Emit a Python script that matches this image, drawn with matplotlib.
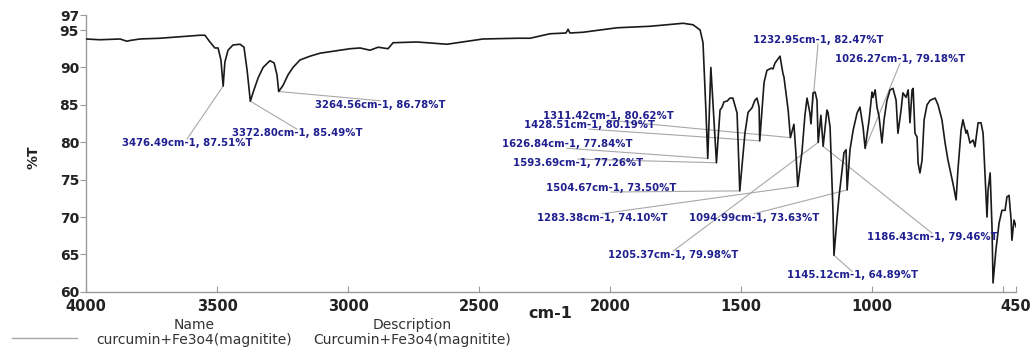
import matplotlib
matplotlib.use("Agg")
import matplotlib.pyplot as plt
from matplotlib.lines import Line2D

# FTIR spectrum, curcumin + Fe3O4
wavenumber = [4000, 3947, 3870, 3844, 3832, 3794, 3718, 3641, 3565, 3546, 3527, 3508, 3496, 3485,
              3470, 3458, 3439, 3412, 3397, 3385, 3359, 3343, 3324, 3298, 3282, 3271, 3248, 3229,
              3210, 3183, 3145, 3107, 3050, 2992, 2954, 2916, 2885, 2847, 2828, 2737, 2622, 2485,
              2355, 2305, 2229, 2168, 2160, 2153, 2103, 1973, 1847, 1721, 1683, 1656, 1645, 1634,
              1615, 1580, 1572, 1565, 1553, 1542, 1531, 1515, 1485, 1473, 1458, 1447, 1439, 1431,
              1412, 1401, 1385, 1378, 1370, 1351, 1340, 1336, 1320, 1298, 1290, 1267, 1256, 1248,
              1237, 1225, 1217, 1210, 1195, 1172, 1168, 1160, 1149, 1133, 1126, 1114, 1107, 1099,
              1084, 1072, 1057, 1046, 1034, 1011, 1000, 996, 988, 981, 973, 962, 954, 943, 931,
              920, 908, 901, 889, 882, 870, 862, 855, 847, 843, 836, 828, 824, 817, 809, 801, 790,
              778, 759, 748, 733, 721, 710, 691, 679, 672, 660, 653, 641, 637, 626, 614, 607, 595,
              584, 576, 568, 561, 557, 549, 542, 538, 527, 515, 504, 492, 485, 477, 469, 466, 458,
              450]
transmittance = [93.8, 93.7, 93.8, 93.5, 93.6, 93.8, 93.9, 94.1, 94.3, 94.3, 93.4, 92.6, 92.6, 91.0,
                 90.7, 92.3, 93.0, 93.1, 92.7, 89.6, 87.0, 88.6, 90.0, 90.9, 90.6, 89.0, 87.6, 89.0,
                 90.0, 91.0, 91.5, 91.9, 92.2, 92.5, 92.6, 92.3, 92.7, 92.5, 93.3, 93.4, 93.1, 93.8,
                 93.9, 93.9, 94.5, 94.6, 95.1, 94.6, 94.7, 95.3, 95.5, 95.9, 95.7, 95.0, 93.3, 84.3,
                 90.0, 84.3, 84.7, 85.4, 85.5, 85.9, 85.9, 83.9, 81.2, 84.0, 84.6, 85.6, 85.9, 84.7,
                 88.0, 89.6, 89.9, 89.8, 90.6, 91.5, 89.2, 88.7, 84.3, 82.4, 78.3, 78.8, 83.6, 85.9,
                 83.9, 86.6, 86.7, 85.6, 83.6, 84.3, 84.0, 82.0, 70.9, 70.0, 72.7, 76.3, 78.6, 79.0,
                 79.0, 81.6, 83.9, 84.7, 82.0, 83.0, 86.7, 86.0, 87.0, 84.7, 83.4, 79.9, 83.0, 85.6, 87.0,
                 87.2, 85.6, 81.2, 84.3, 86.6, 86.0, 87.0, 82.6, 87.0, 87.2, 81.2, 80.7, 77.2, 75.9, 77.6, 83.0, 85.0,
                 85.6, 85.9, 85.0, 83.0, 79.9, 77.6, 74.5, 72.3, 76.3, 81.6, 83.0, 81.2, 81.6, 79.9, 80.3, 79.4, 82.6,
                 82.6, 81.2, 75.3, 70.0, 73.6, 75.9, 68.7, 61.2, 65.6, 69.2, 70.9, 70.9, 72.7, 72.9, 69.6, 66.9, 69.6,
                 68.7]

# labelled peaks
peak_wn = [3476.49, 3372.80, 3264.56, 1311.42, 1428.51, 1626.84, 1593.69, 1504.67,
           1283.38, 1205.37, 1232.95, 1026.27, 1094.99, 1186.43, 1145.12]
peak_t = [87.51, 85.49, 86.78, 80.62, 80.19, 77.84, 77.26, 73.50,
          74.10, 79.98, 82.47, 79.18, 73.63, 79.46, 64.89]
# where each label sits (wavenumber, %T of text centre)
label_pos = [(3614, 79.9), (3195, 81.2), (2878, 85.0), (2007, 83.5), (2080, 82.3),
             (2164, 79.75), (2122, 77.2), (1996, 73.9), (2030, 69.9), (1759, 64.9),
             (1206, 93.7), (893, 91.1), (1450, 69.9), (771, 67.3), (1076, 62.2)]

pts = sorted(zip(wavenumber + peak_wn, transmittance + peak_t), reverse=True)
x = [p[0] for p in pts]
y = [p[1] for p in pts]

fig = plt.figure(figsize=(10.3, 3.5), dpi=100)
ax = fig.add_axes([0.0835, 0.166, 0.903, 0.791])
ax.plot(x, y, color="#1a1a1a", lw=1.2, zorder=3)

for wn, t, (lx, ly) in zip(peak_wn, peak_t, label_pos):
    ey = ly + 0.55 if ly < t else ly - 0.55
    ax.plot([wn, lx], [t, ey], color="#a8a8a8", lw=0.8, zorder=2)
    ax.text(lx, ly, f"{wn:.2f}cm-1, {t:.2f}%T", ha="center", va="center",
            fontsize=7.3, fontweight="bold", color="#1f1f8f", family="DejaVu Sans", zorder=4)

ax.set_xlim(4000, 450)
ax.set_ylim(60, 97)
ax.set_xticks([4000, 3500, 3000, 2500, 2000, 1500, 1000, 500, 450])
ax.set_xticklabels(["4000", "3500", "3000", "2500", "2000", "1500", "1000", "", "450"])
ax.set_yticks([60, 65, 70, 75, 80, 85, 90, 95, 97])
for s in ["top", "right"]:
    ax.spines[s].set_visible(False)
for s in ["left", "bottom"]:
    ax.spines[s].set_color("#9a9a9a")
    ax.spines[s].set_linewidth(1.0)
ax.tick_params(axis="x", direction="in", length=4, color="#9a9a9a", pad=5)
ax.tick_params(axis="y", direction="out", length=4, color="#9a9a9a", pad=1)
for lab in ax.get_xticklabels():
    lab.set_fontweight("bold")
    lab.set_fontsize(10.5)
    lab.set_color("#222222")
for lab in ax.get_yticklabels():
    lab.set_fontweight("bold")
    lab.set_fontsize(10)
    lab.set_color("#222222")

fig.text(550 / 1030, 1 - 313 / 350, "cm-1", ha="center", va="center",
         fontsize=11.5, fontweight="bold", color="#222222")
fig.text(33 / 1030, 1 - 157 / 350, "%T", ha="center", va="center", rotation=90,
         fontsize=10, fontweight="bold", color="#222222")

# legend block underneath
fig.add_artist(Line2D([12 / 1030, 77 / 1030], [1 - 338 / 350, 1 - 338 / 350],
                      color="#a8a8a8", lw=1.0))
fig.text(194 / 1030, 1 - 325 / 350, "Name", ha="center", va="center", fontsize=10, color="#333333")
fig.text(194 / 1030, 1 - 340 / 350, "curcumin+Fe3o4(magnitite)", ha="center", va="center",
         fontsize=10, color="#333333")
fig.text(412 / 1030, 1 - 325 / 350, "Description", ha="center", va="center", fontsize=10, color="#333333")
fig.text(412 / 1030, 1 - 340 / 350, "Curcumin+Fe3o4(magnitite)", ha="center", va="center",
         fontsize=10, color="#333333")

fig.savefig("out.png", dpi=100)
